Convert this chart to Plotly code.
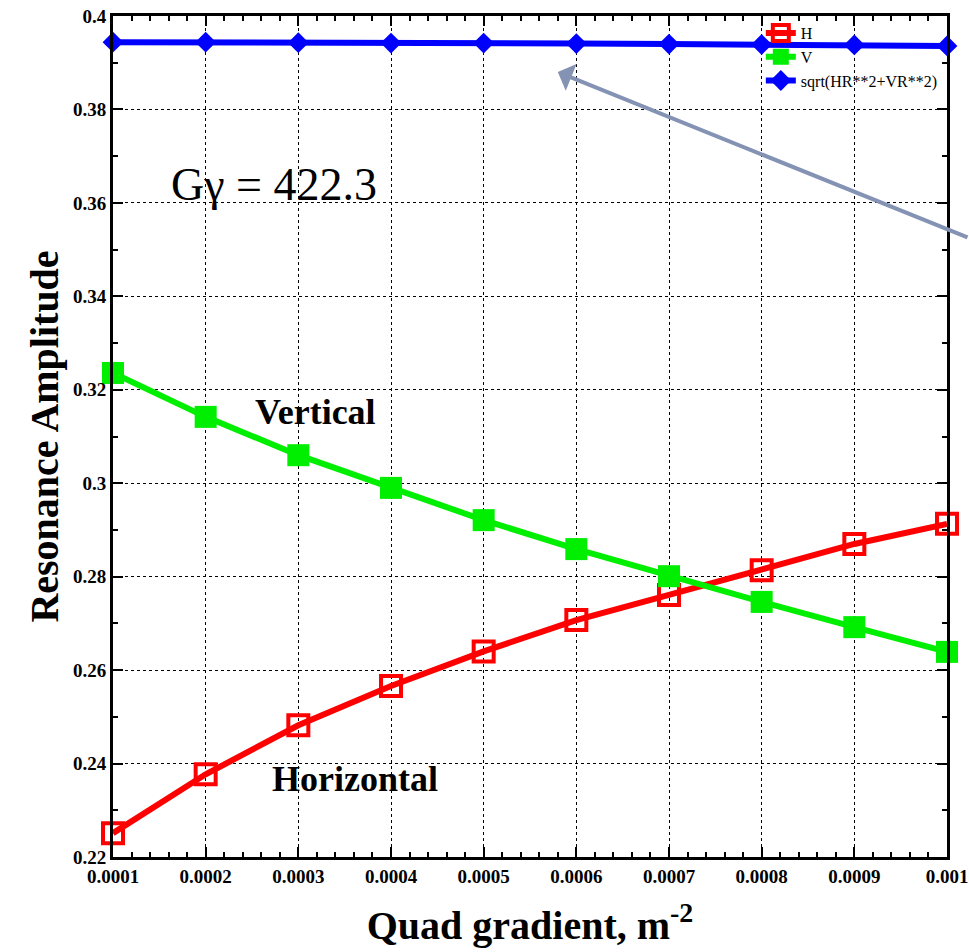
import plotly.graph_objects as go

quad_gradient = [0.0001, 0.0002, 0.0003, 0.0004, 0.0005, 0.0006, 0.0007, 0.0008, 0.0009, 0.001]
horizontal = [0.2251, 0.2377, 0.2482, 0.2566, 0.2640, 0.2707, 0.2761, 0.2814, 0.2870, 0.2913]
vertical = [0.3236, 0.3142, 0.3060, 0.2990, 0.2921, 0.2859, 0.2801, 0.2746, 0.2692, 0.2639]
total = [0.3944, 0.3944, 0.3943, 0.3942, 0.3942, 0.3941, 0.3940, 0.3939, 0.3938, 0.3936]

x_tickvals = quad_gradient
x_ticktext = ["0.0001", "0.0002", "0.0003", "0.0004", "0.0005", "0.0006", "0.0007", "0.0008", "0.0009", "0.001"]
y_tickvals = [0.22, 0.24, 0.26, 0.28, 0.30, 0.32, 0.34, 0.36, 0.38, 0.40]
y_ticktext = ["0.22", "0.24", "0.26", "0.28", "0.3", "0.32", "0.34", "0.36", "0.38", "0.4"]

SERIF = "Liberation Serif, Times New Roman, serif"

fig = go.Figure()
fig.add_trace(go.Scatter(
    x=quad_gradient, y=horizontal, name="H", mode="lines+markers",
    line=dict(color="#ff0000", width=6),
    marker=dict(symbol="square-open", size=20, color="#ff0000", line=dict(width=4, color="#ff0000")),
    cliponaxis=False,
))
fig.add_trace(go.Scatter(
    x=quad_gradient, y=vertical, name="V", mode="lines+markers",
    line=dict(color="#00ee00", width=6),
    marker=dict(symbol="square", size=22, color="#00ee00"),
    cliponaxis=False,
))
fig.add_trace(go.Scatter(
    x=quad_gradient, y=total, name="sqrt(HR**2+VR**2)", mode="lines+markers",
    line=dict(color="#0000ff", width=6),
    marker=dict(symbol="diamond", size=16, color="#0000ff"),
    cliponaxis=False,
))

axis_common = dict(
    showline=True, linecolor="black", linewidth=3, mirror="ticks",
    ticks="inside", ticklen=10, tickwidth=2, tickcolor="black",
    showgrid=True, gridcolor="black", gridwidth=1, griddash="dot",
    zeroline=False, automargin=False, ticklabeloverflow="allow",
    tickfont=dict(family=SERIF, size=19, color="black", weight="bold"),
)

fig.update_xaxes(
    range=[0.0001, 0.001], tickvals=x_tickvals, ticktext=x_ticktext,
    minor=dict(ticks="inside", ticklen=5, tickwidth=2, tickcolor="black", dtick=0.00002, tick0=0.0001, showgrid=False),
    title=dict(text="Quad gradient, m<sup>-2</sup>", font=dict(family=SERIF, size=40, color="black", weight="bold"), standoff=26),
    **axis_common,
)
fig.update_yaxes(
    range=[0.22, 0.4], tickvals=y_tickvals, ticktext=y_ticktext,
    minor=dict(ticks="inside", ticklen=5, tickwidth=2, tickcolor="black", dtick=0.01, tick0=0.22, showgrid=False),
    title=dict(text="Resonance Amplitude", font=dict(family=SERIF, size=40, color="black", weight="bold"), standoff=2),
    **axis_common,
)

fig.add_annotation(x=0.000274, y=0.3640, xref="x", yref="y", text="Gγ = 422.3", showarrow=False,
                   font=dict(family=SERIF, size=46, color="black"))
fig.add_annotation(x=0.000318, y=0.3152, xref="x", yref="y", text="<b>Vertical</b>", showarrow=False,
                   font=dict(family=SERIF, size=36, color="black"))
fig.add_annotation(x=0.000361, y=0.2367, xref="x", yref="y", text="<b>Horizontal</b>", showarrow=False,
                   font=dict(family=SERIF, size=36, color="black"))
fig.add_annotation(x=0.00058, y=0.3880, xref="x", yref="y", text="", showarrow=True,
                   ax=420, ay=166, arrowhead=1, arrowsize=1.2, arrowwidth=4, arrowcolor="#8492b4")

fig.update_layout(
    width=969, height=952,
    margin=dict(l=113, r=22, t=16, b=95),
    paper_bgcolor="white", plot_bgcolor="white",
    showlegend=True,
    legend=dict(x=0.995, y=1.0, xanchor="right", yanchor="top", bgcolor="rgba(0,0,0,0)",
                font=dict(family=SERIF, size=16, color="black"), tracegroupgap=0, itemwidth=30),
)

fig.write_html("out.html", config={"displayModeBar": False},
               post_script="document.body.style.margin='0';document.body.style.overflow='hidden';")
